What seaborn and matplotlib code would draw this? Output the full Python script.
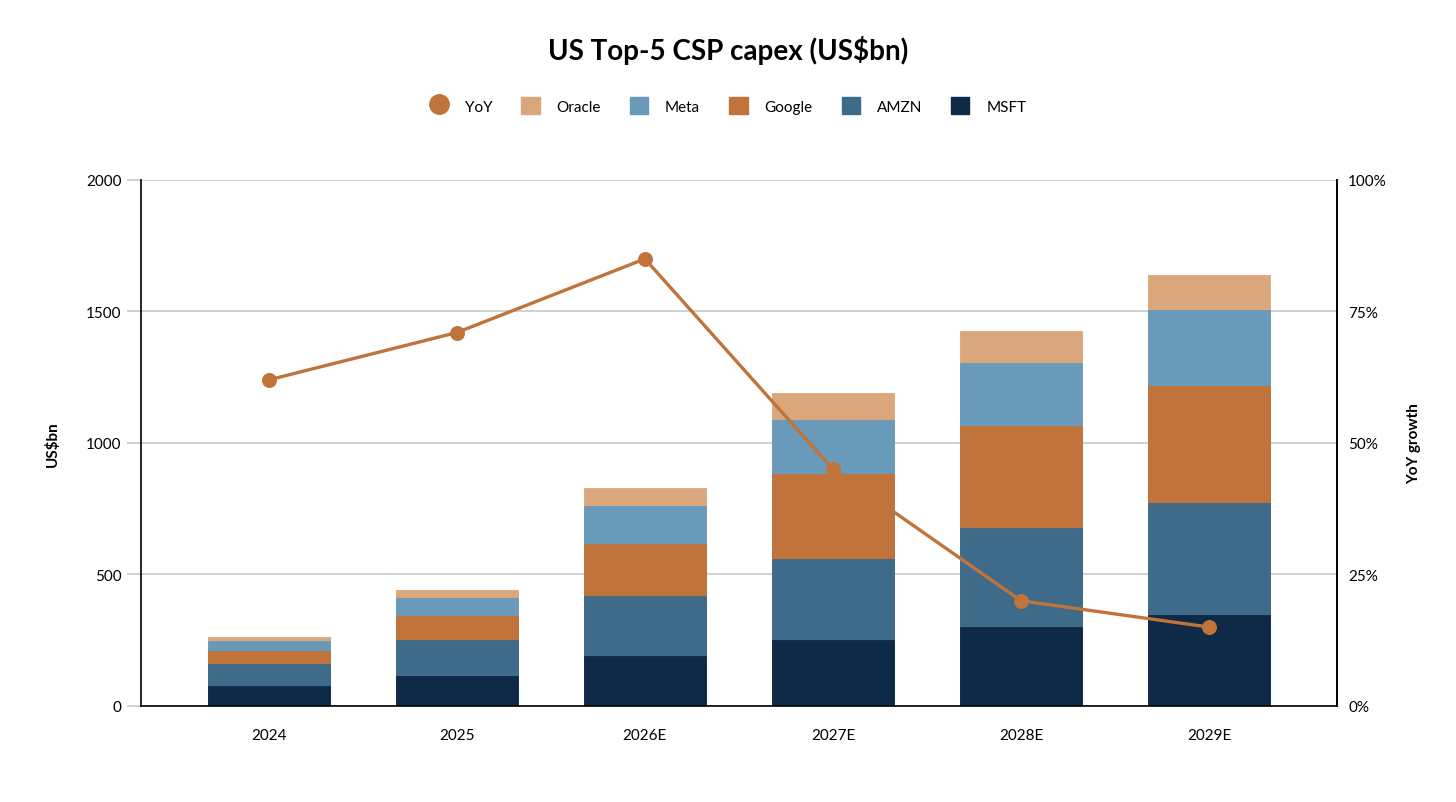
import numpy as np
import pandas as pd
import matplotlib.pyplot as plt
import seaborn as sns
from matplotlib.ticker import FuncFormatter
from matplotlib.lines import Line2D
from matplotlib.patches import Patch

sns.set_theme(style="white")
plt.rcParams['font.family'] = ['Lato', 'DejaVu Sans']
plt.rcParams['text.color'] = 'black'
plt.rcParams['axes.labelcolor'] = 'black'
plt.rcParams['xtick.color'] = 'black'
plt.rcParams['ytick.color'] = 'black'

##data (US$bn)
years = ['2024', '2025', '2026E', '2027E', '2028E', '2029E']
msft = [76, 114, 190, 251, 300, 346]
amzn = [84, 137, 228, 308, 377, 426]
google = [49, 91, 198, 323, 388, 445]
meta = [38, 69, 144, 205, 239, 289]
oracle = [15, 30, 69, 103, 122, 133]
yoy = [0.62, 0.71, 0.85, 0.45, 0.20, 0.15]

names = ['MSFT', 'AMZN', 'Google', 'Meta', 'Oracle']
colors = {'MSFT': '#0f2a47', 'AMZN': '#3e6b8a', 'Google': '#c0733b',
          'Meta': '#6a9aba', 'Oracle': '#d9a77b'}
line_col = '#c0733b'

df = pd.DataFrame({'year': years, 'MSFT': msft, 'AMZN': amzn, 'Google': google,
                   'Meta': meta, 'Oracle': oracle})
cum = df[names].cumsum(axis=1)
cum['year'] = df['year']

fig = plt.figure(figsize=(14.56, 8.03), dpi=100)
ax = fig.add_axes([0.0968, 0.1196, 0.8214, 0.655])

##stacked bars: draw cumulative totals back to front
for n in names[::-1]:
    sns.barplot(data=cum, x='year', y=n, color=colors[n], width=0.65,
                saturation=1, ax=ax, zorder=2, edgecolor=colors[n], linewidth=0.6)

ax.set_ylim(0, 2000)
ax.set_xlim(-0.68, 5.68)
ax.set_yticks([0, 500, 1000, 1500, 2000])
ax.yaxis.grid(True, color='#c8c8c8', linewidth=1.2, zorder=0)
ax.set_axisbelow(True)
ax.set_xlabel('')
ax.set_ylabel('US$bn', fontsize=11, fontweight='bold', labelpad=19)
for s in ['top']:
    ax.spines[s].set_visible(False)
for s in ['left', 'bottom', 'right']:
    ax.spines[s].set_color('black')
    ax.spines[s].set_linewidth(1.2)
ax.tick_params(axis='x', length=10, width=1.2, color='#c8c8c4', labelsize=11, pad=6)
ax.tick_params(axis='y', left=True, length=10, width=1.2, color='#c8c8c4', labelsize=11, pad=4)

##YoY line on right axis
ax2 = ax.twinx()
sns.lineplot(x=np.arange(len(years)), y=yoy, ax=ax2, color=line_col, linewidth=2.4,
             marker='o', markersize=10, markeredgecolor=line_col, zorder=3)
ax2.set_ylim(0, 1)
ax2.set_yticks([0, 0.25, 0.5, 0.75, 1.0])
ax2.yaxis.set_major_formatter(FuncFormatter(lambda v, p: f'{v:.0%}'))
ax2.tick_params(axis='y', length=0, labelsize=11, pad=8)
ax2.set_ylabel('YoY growth', fontsize=11, fontweight='bold', labelpad=15)
ax2.spines['top'].set_visible(False)
ax2.spines['right'].set_color('black')
ax2.spines['right'].set_linewidth(1.2)
ax2.spines['left'].set_visible(False)
ax2.spines['bottom'].set_visible(False)

fig.suptitle('US Top-5 CSP capex (US$bn)', fontsize=20, fontweight='bold', y=0.955)

handles = [Line2D([], [], marker='o', linestyle='', markersize=14, color=line_col)]
labels = ['YoY']
for n in ['Oracle', 'Meta', 'Google', 'AMZN', 'MSFT']:
    handles.append(Patch(facecolor=colors[n], edgecolor=colors[n]))
    labels.append(n)
fig.legend(handles, labels, loc='center', bbox_to_anchor=(0.5, 0.867), ncol=6,
           frameon=False, fontsize=11, handlelength=1.2, handleheight=1.3,
           columnspacing=1.9, handletextpad=1.1)

plt.savefig('out.png', dpi=100)
